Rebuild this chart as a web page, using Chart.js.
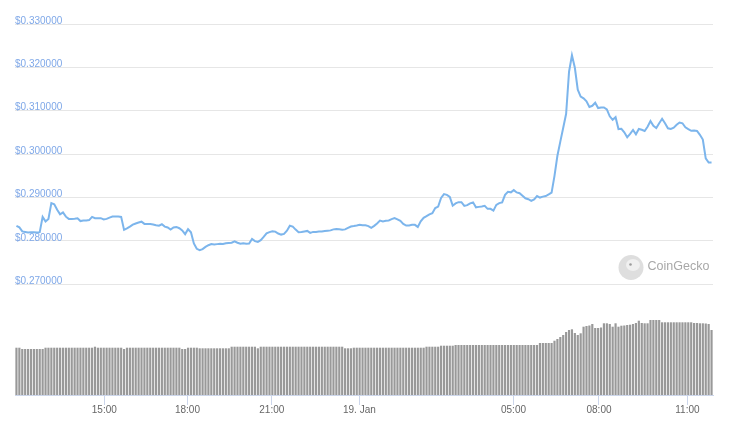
<!DOCTYPE html>
<html>
<head>
<meta charset="utf-8">
<script src="https://cdn.jsdelivr.net/npm/chart.js@4"></script>
<style>
  html, body { margin: 0; padding: 0; background: #fff; }
  #wrap { width: 731px; height: 428px; }
</style>
</head>
<body>
<div id="wrap"><canvas id="chart" width="731" height="428"></canvas></div>
<script>
// one entry per sample (ordinal time axis, like the original)
const price = [
  0.28345, 0.28310, 0.28217, 0.28206, 0.28194, 0.28199, 0.28199, 0.28190, 0.28199, 0.28552,
  0.28448, 0.28506, 0.28869, 0.28841, 0.28719, 0.28610, 0.28656, 0.28557, 0.28506, 0.28506,
  0.28511, 0.28518, 0.28455, 0.28467, 0.28471, 0.28478, 0.28552, 0.28522, 0.28522, 0.28522,
  0.28495, 0.28506, 0.28534, 0.28559, 0.28559, 0.28559, 0.28552, 0.28253, 0.28287, 0.28326,
  0.28372, 0.28400, 0.28423, 0.28441, 0.28391, 0.28391, 0.28386, 0.28377, 0.28361, 0.28349,
  0.28382, 0.28328, 0.28307, 0.28261, 0.28310, 0.28321, 0.28291, 0.28241, 0.28155, 0.28268,
  0.28199, 0.27940, 0.27817, 0.27783, 0.27808, 0.27859, 0.27898, 0.27924, 0.27915, 0.27924,
  0.27933, 0.27928, 0.27942, 0.27951, 0.27956, 0.27990, 0.27956, 0.27933, 0.27944, 0.27935,
  0.27940, 0.28044, 0.27993, 0.27974, 0.28016, 0.28090, 0.28173, 0.28201, 0.28222, 0.28213,
  0.28169, 0.28144, 0.28160, 0.28234, 0.28349, 0.28328, 0.28259, 0.28199, 0.28204, 0.28217,
  0.28229, 0.28183, 0.28206, 0.28204, 0.28213, 0.28213, 0.28227, 0.28234, 0.28241, 0.28264,
  0.28273, 0.28266, 0.28257, 0.28264, 0.28299, 0.28331, 0.28340, 0.28354, 0.28372, 0.28358,
  0.28358, 0.28340, 0.28299, 0.28345, 0.28400, 0.28467, 0.28448, 0.28462, 0.28471, 0.28499,
  0.28525, 0.28495, 0.28460, 0.28391, 0.28352, 0.28356, 0.28368, 0.28368, 0.28321, 0.28448,
  0.28529, 0.28568, 0.28610, 0.28636, 0.28756, 0.28790, 0.28991, 0.29077, 0.29060, 0.29014,
  0.28811, 0.28864, 0.28892, 0.28892, 0.28806, 0.28822, 0.28864, 0.28887, 0.28772, 0.28783,
  0.28790, 0.28806, 0.28737, 0.28737, 0.28695, 0.28829, 0.28869, 0.28887, 0.29060, 0.29130,
  0.29118, 0.29169, 0.29116, 0.29099, 0.29042, 0.28982, 0.28959, 0.28922, 0.28957, 0.29033,
  0.28998, 0.29019, 0.29033, 0.29070, 0.29111, 0.29499, 0.29961, 0.30288, 0.30607, 0.30930,
  0.31899, 0.32280, 0.31991, 0.31484, 0.31327, 0.31285, 0.31218, 0.31087, 0.31114, 0.31184,
  0.31061, 0.31075, 0.31075, 0.31031, 0.30872, 0.30791, 0.30851, 0.30577, 0.30584, 0.30503,
  0.30388, 0.30468, 0.30556, 0.30457, 0.30579, 0.30561, 0.30533, 0.30630, 0.30761, 0.30653,
  0.30600, 0.30711, 0.30814, 0.30711, 0.30595, 0.30579, 0.30607, 0.30676, 0.30729, 0.30711,
  0.30618, 0.30575, 0.30538, 0.30545, 0.30533, 0.30445, 0.30335, 0.29903, 0.29806, 0.29806
];

// volume, millions USD
const volume = [
  4.73, 4.73, 4.60, 4.60, 4.60, 4.60, 4.60, 4.60, 4.60, 4.60, 4.73, 4.73, 4.73, 4.73, 4.73, 4.73, 4.73, 4.73, 4.73, 4.73,
  4.73, 4.73, 4.73, 4.73, 4.73, 4.73, 4.73, 4.83, 4.73, 4.73, 4.73, 4.73, 4.73, 4.73, 4.73, 4.73, 4.73, 4.60, 4.73, 4.73,
  4.73, 4.73, 4.73, 4.73, 4.73, 4.73, 4.73, 4.73, 4.73, 4.73, 4.73, 4.73, 4.73, 4.73, 4.73, 4.73, 4.73, 4.60, 4.60, 4.73,
  4.73, 4.73, 4.73, 4.67, 4.67, 4.67, 4.67, 4.67, 4.67, 4.67, 4.67, 4.67, 4.67, 4.67, 4.83, 4.83, 4.83, 4.83, 4.83, 4.83,
  4.83, 4.83, 4.83, 4.67, 4.83, 4.83, 4.83, 4.83, 4.83, 4.83, 4.83, 4.83, 4.83, 4.83, 4.83, 4.83, 4.83, 4.83, 4.83, 4.83,
  4.83, 4.83, 4.83, 4.83, 4.83, 4.83, 4.83, 4.83, 4.83, 4.83, 4.83, 4.83, 4.83, 4.67, 4.67, 4.67, 4.73, 4.73, 4.73, 4.73,
  4.73, 4.73, 4.73, 4.73, 4.73, 4.73, 4.73, 4.73, 4.73, 4.73, 4.73, 4.73, 4.73, 4.73, 4.73, 4.73, 4.73, 4.73, 4.73, 4.73,
  4.73, 4.83, 4.83, 4.83, 4.83, 4.83, 4.93, 4.93, 4.93, 4.93, 4.93, 5.00, 5.00, 5.00, 5.00, 5.00, 5.00, 5.00, 5.00, 5.00,
  5.00, 5.00, 5.00, 5.00, 5.00, 5.00, 5.00, 5.00, 5.00, 5.00, 5.00, 5.00, 5.00, 5.00, 5.00, 5.00, 5.00, 5.00, 5.00, 5.00,
  5.20, 5.20, 5.20, 5.20, 5.20, 5.43, 5.60, 5.80, 6.00, 6.30, 6.50, 6.57, 6.20, 6.00, 6.17, 6.83, 6.90, 6.95, 7.10, 6.70,
  6.70, 6.75, 7.17, 7.17, 7.10, 6.83, 7.17, 6.83, 6.93, 6.95, 7.00, 7.03, 7.10, 7.20, 7.43, 7.20, 7.17, 7.17, 7.50, 7.50,
  7.50, 7.50, 7.27, 7.27, 7.27, 7.27, 7.27, 7.27, 7.27, 7.27, 7.27, 7.27, 7.27, 7.20, 7.20, 7.17, 7.17, 7.15, 7.10, 6.50
];

// x axis: sample index where each time label falls
const tickSlots = [30.2, 58.8, 87.8, 117.9, 170.9, 200.3, 230.7];
const tickLabels = ["15:00", "18:00", "21:00", "19. Jan", "05:00", "08:00", "11:00"];
const priceTicks = [0.27, 0.28, 0.29, 0.30, 0.31, 0.32, 0.33];

Chart.defaults.font.family = "'Liberation Sans', Arial, sans-serif";

// CoinGecko watermark
const watermark = {
  id: "watermark",
  beforeDatasetsDraw(chart) {
    const ctx = chart.ctx;
    ctx.save();
    ctx.fillStyle = "#dedede";
    ctx.beginPath();
    ctx.arc(631, 267.5, 12.5, 0, Math.PI * 2);
    ctx.fill();
    ctx.fillStyle = "#f0f0f0";
    ctx.beginPath();
    ctx.ellipse(633, 265, 7, 6, 0, 0, Math.PI * 2);
    ctx.fill();
    ctx.fillStyle = "#9c9c9c";
    ctx.beginPath();
    ctx.arc(630.5, 264.5, 1.3, 0, Math.PI * 2);
    ctx.fill();
    ctx.fillStyle = "#a8a8a8";
    ctx.font = "12.5px 'Liberation Sans', Arial, sans-serif";
    ctx.textBaseline = "middle";
    ctx.fillText("CoinGecko", 647.5, 267);
    ctx.restore();
  },
};

new Chart(document.getElementById("chart"), {
  type: "bar",
  data: {
    datasets: [
      {
        type: "line",
        label: "Price",
        data: price.map((v, i) => ({ x: i, y: v })),
        yAxisID: "y",
        borderColor: "#7cb5ec",
        borderWidth: 2,
        pointRadius: 0,
        tension: 0,
        order: 0,
      },
      {
        type: "bar",
        label: "Volume",
        data: volume.map((v, i) => ({ x: i, y: v })),
        yAxisID: "vol",
        backgroundColor: "#999999",
        barPercentage: 1,
        categoryPercentage: 0.75,
        order: 1,
      },
    ],
  },
  options: {
    responsive: false,
    animation: false,
    layout: { padding: { left: 15, right: 18, top: 24, bottom: 13 } },
    plugins: { legend: { display: false }, tooltip: { enabled: false } },
    scales: {
      x: {
        type: "linear",
        min: -0.5,
        max: price.length - 0.5,
        offset: false,
        grid: { drawOnChartArea: false, drawTicks: true, tickLength: 10, color: "#ccd6eb", offset: false },
        border: { color: "#ccd6eb" },
        afterBuildTicks: (s) => { s.ticks = tickSlots.map((v) => ({ value: v })); },
        ticks: {
          autoSkip: false,
          maxRotation: 0,
          padding: -1,
          color: "#666666",
          font: { size: 10 },
          callback: (v, i) => tickLabels[i],
        },
      },
      y: {
        position: "left",
        min: 0.24445,
        max: 0.33,
        afterBuildTicks: (s) => { s.ticks = priceTicks.map((v) => ({ value: v })); },
        grid: { color: "#e6e6e6", drawTicks: false },
        border: { display: false },
        ticks: {
          mirror: true,
          padding: 0,
          labelOffset: -3,
          color: "#7fa8e8",
          font: { size: 10 },
          callback: (v) => "$" + v.toFixed(6),
        },
      },
      vol: { display: false, min: 0, max: 37.1 },
    },
  },
  plugins: [watermark],
});
</script>
</body>
</html>
